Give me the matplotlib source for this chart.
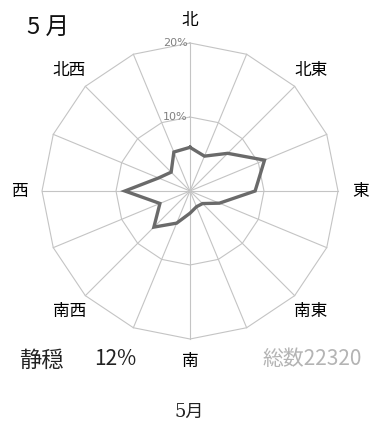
import matplotlib.pyplot as plt
import numpy as np

plt.rcParams['font.family'] = ['Noto Sans CJK JP', 'DejaVu Sans']

# 16 wind directions, clockwise from north (percent frequency)
directions = ['北', '北北東', '北東', '東北東', '東', '東南東', '南東', '南南東',
              '南', '南南西', '南西', '西南西', '西', '西北西', '北西', '北北西']
freq = [5.9, 5.1, 7.2, 10.9, 8.8, 4.3, 2.4, 2.3,
        3.0, 4.7, 6.9, 4.4, 8.8, 4.6, 3.6, 5.7]
rings = [10, 20]
ring_labels = ['10%', '20%']
main_labels = ['北', '北東', '東', '南東', '南', '南西', '西', '北西']
calm_text = '静穏'
calm_value = '12%'
total_text = '総数22320'
month = '5月'

W, H = 373, 430
cx, cy = 190, 191          # pixel centre of the rose
px_per_unit = 148 / 20     # 20% ring radius in pixels

fig = plt.figure(figsize=(W / 100, H / 100), dpi=100)
ax = fig.add_axes([0, 0, 1, 1])
ax.set_xlim(-cx / px_per_unit, (W - cx) / px_per_unit)
ax.set_ylim(-(H - cy) / px_per_unit, cy / px_per_unit)
ax.axis('off')

theta = np.arange(16) * 2 * np.pi / 16
sx, sy = np.sin(theta), np.cos(theta)

grid_col = '#c4c4c4'
# polygon rings
for r in rings:
    ax.plot(np.append(r * sx, r * sx[0]), np.append(r * sy, r * sy[0]),
            color=grid_col, lw=0.8, zorder=1)
# spokes
for x, y in zip(sx, sy):
    ax.plot([0, rings[-1] * x], [0, rings[-1] * y], color=grid_col, lw=0.8, zorder=1)

# ring labels on the north spoke
for r, lab in zip(rings, ring_labels):
    ax.text(-0.35, r, lab, ha='right', va='center', fontsize=8,
            color='#808080', family='DejaVu Sans', zorder=2)

# frequency polygon
f = np.array(freq)
ax.plot(np.append(f * sx, f[0] * sx[0]), np.append(f * sy, f[0] * sy[0]),
        color='#6a6a6a', lw=2.4, solid_joinstyle='miter', zorder=3)

# direction labels
for i, lab in enumerate(main_labels):
    t = theta[2 * i]
    ax.text(23.1 * np.sin(t), 23.1 * np.cos(t), lab, ha='center', va='center',
            fontsize=12, color='black')

def fig_xy(px, py):
    return px / W, 1 - py / H

fig.text(*fig_xy(27, 27), '5 月', ha='left', va='center', fontsize=17, color='#111111')
fig.text(*fig_xy(19, 360), calm_text, ha='left', va='center', fontsize=16, color='#222222')
fig.text(*fig_xy(94, 359), calm_value, ha='left', va='center', fontsize=15, color='#222222')
fig.text(*fig_xy(362, 359), total_text, ha='right', va='center', fontsize=15, color='#b4b4b4')
fig.text(*fig_xy(189, 412), month, ha='center', va='center', fontsize=13,
         color='#222222', family=['DejaVu Serif', 'Noto Sans CJK JP'])

fig.savefig('out.png', dpi=100)
